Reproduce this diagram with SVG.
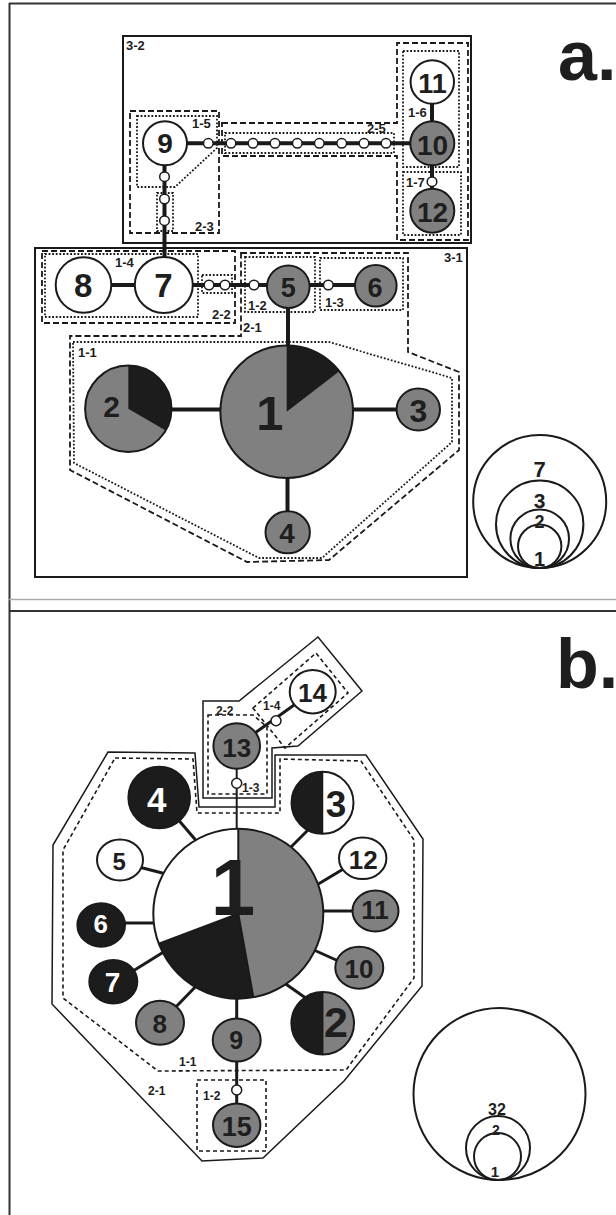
<svg xmlns="http://www.w3.org/2000/svg" width="616" height="1215" viewBox="0 0 616 1215">
<style>
.frame{fill:none;stroke:#333;stroke-width:2}
.fg{fill:none;stroke:#aaa;stroke-width:1.5}
.box{fill:none;stroke:#1a1a1a;stroke-width:2}
.sol{fill:none;stroke:#1a1a1a;stroke-width:1.5}
.dash{fill:none;stroke:#1a1a1a;stroke-width:1.8;stroke-dasharray:6 3}
.dot{fill:none;stroke:#1a1a1a;stroke-width:1.8;stroke-dasharray:1.8 1.8}
.bd{fill:none;stroke:#1a1a1a;stroke-width:1.6;stroke-dasharray:4 3}
.ea{stroke:#1a1a1a;stroke-width:4;fill:none}
.eb{stroke:#1a1a1a;stroke-width:3;fill:none}
.et{stroke:#1a1a1a;stroke-width:2;fill:none}
.n{stroke:#1a1a1a;stroke-width:2}
.w{fill:#fff}
.g{fill:#808080}
.k{fill:#1c1c1c}
.s{fill:#fff;stroke:#1a1a1a;stroke-width:1.5}
.lg{fill:none;stroke:#1a1a1a;stroke-width:2}
text{font-family:"Liberation Sans",Arial,sans-serif;font-weight:bold}
.t{text-anchor:middle;fill:#1e1e1e}
.tw{text-anchor:middle;fill:#fff}
.r{font-size:13px;fill:#1e1e1e}
.rb{font-size:12px;fill:#1e1e1e}
.big{font-size:70px;fill:#1e1e1e}
</style>

<g id="frame">
<line class="frame" x1="9.5" y1="3" x2="9.5" y2="1215"/>
<line class="frame" x1="9" y1="3.5" x2="616" y2="3.5"/>
<line class="fg" x1="9" y1="599.5" x2="616" y2="599.5"/>
<line class="frame" x1="9" y1="611" x2="616" y2="611"/>
<text class="big" x="558" y="80">a.</text>
<text class="big" x="556" y="688">b.</text>
</g>

<g id="regions-a">
<rect class="box" x="123" y="36" width="348" height="207"/>
<rect class="box" x="35" y="248" width="432" height="329"/>
<rect class="dash" x="130" y="111" width="89" height="122"/>
<polygon class="dot" points="137,116 217,116 217,148 175,187 137,187"/>
<rect class="dot" x="157" y="193" width="16" height="38"/>
<polygon class="dash" points="222,123 397,123 397,43 468,43 468,240 397,240 397,156 222,156"/>
<rect class="dot" x="225" y="133" width="169" height="20"/>
<rect class="dot" x="403" y="51" width="56" height="116"/>
<rect class="dot" x="403" y="172" width="58" height="63"/>
<rect class="dash" x="42" y="251" width="193" height="72"/>
<rect class="dot" x="45" y="254" width="153" height="63"/>
<rect class="dot" x="202" y="275" width="30" height="18"/>
<polygon class="dash" points="241,253 408,253 408,352 459,372 459,450 329,560 247,562 70,470 70,336 241,336"/>
<rect class="dot" x="245" y="257" width="70" height="55"/>
<rect class="dot" x="320" y="258" width="83" height="52"/>
<polygon class="dot" points="73,342 329,342 452,378 452,442 322,558 259,558 74,463"/>
<text class="r" x="126" y="50">3-2</text>
<text class="r" x="195" y="231">2-3</text>
<text class="r" x="192" y="128">1-5</text>
<text class="r" x="367" y="133">2-5</text>
<text class="r" x="408" y="117">1-6</text>
<text class="r" x="406" y="187">1-7</text>
<text class="r" x="115" y="267">1-4</text>
<text class="r" x="212" y="319">2-2</text>
<text class="r" x="243" y="332">2-1</text>
<text class="r" x="248" y="310">1-2</text>
<text class="r" x="325" y="307">1-3</text>
<text class="r" x="444" y="262">3-1</text>
<text class="r" x="78" y="357">1-1</text>
</g>

<g id="regions-b">
<polygon class="sol" points="108,752 195,753 199,807 275,807 275,755 366,755 423,839 422,986 344,1081 263,1158 202,1161 52,1004 53,845"/>
<polygon class="bd" points="115,758 193,759 197,813 280,813 280,759 361,761 414,840 414,978 346,1070 158,1071 63,998 63,850"/>
<polygon class="sol" points="203,701 239,701 318,637 362,691 298,746 272,748 272,798 203,798"/>
<polygon class="bd" points="208,715 253,715 267,727 267,794 208,794"/>
<polygon class="bd" points="253,708 316,653 348,693 285,748"/>
<rect class="bd" x="197" y="1080" width="69" height="71"/>
<text class="rb" x="216" y="715">2-2</text>
<text class="rb" x="263" y="710">1-4</text>
<text class="rb" x="242" y="792">1-3</text>
<text class="rb" x="179" y="1066">1-1</text>
<text class="rb" x="148" y="1095">2-1</text>
<text class="rb" x="203" y="1100">1-2</text>
</g>

<g id="connectors">
<line class="ea" x1="165" y1="143.3" x2="432" y2="143.3"/>
<line class="ea" x1="164.5" y1="143" x2="164.5" y2="285"/>
<line class="ea" x1="432" y1="82" x2="432" y2="211"/>
<line class="ea" x1="83" y1="285" x2="376" y2="285"/>
<line class="ea" x1="288" y1="287" x2="288" y2="412"/>
<line class="ea" x1="128" y1="409.5" x2="418" y2="409.5"/>
<line class="ea" x1="287.5" y1="412" x2="287.5" y2="532"/>
<line class="et" x1="236.7" y1="746" x2="236.7" y2="830"/>
<line class="eb" x1="236.7" y1="746" x2="312.7" y2="691.7"/>
<line class="eb" x1="170" y1="810" x2="205" y2="851"/>
<line class="eb" x1="135" y1="866" x2="170" y2="875"/>
<line class="eb" x1="315" y1="823" x2="285" y2="853"/>
<line class="eb" x1="350" y1="865" x2="310" y2="889"/>
<line class="eb" x1="315" y1="911" x2="360" y2="911"/>
<line class="eb" x1="345" y1="964" x2="305" y2="946"/>
<line class="eb" x1="310" y1="1001" x2="280" y2="980"/>
<line class="eb" x1="236.7" y1="990" x2="236.7" y2="1126"/>
<line class="eb" x1="170" y1="1013" x2="202" y2="980"/>
<line class="eb" x1="125" y1="976" x2="170" y2="948"/>
<line class="eb" x1="115" y1="923" x2="160" y2="923"/>
<circle class="s" cx="208.3" cy="143.3" r="4.8"/>
<circle class="s" cx="231" cy="143.3" r="4.8"/>
<circle class="s" cx="253" cy="143.3" r="4.8"/>
<circle class="s" cx="275" cy="143.3" r="4.8"/>
<circle class="s" cx="297.3" cy="143.3" r="4.8"/>
<circle class="s" cx="319.3" cy="143.3" r="4.8"/>
<circle class="s" cx="341.7" cy="143.3" r="4.8"/>
<circle class="s" cx="364" cy="143.3" r="4.8"/>
<circle class="s" cx="386" cy="143.3" r="4.8"/>
<circle class="s" cx="164.5" cy="176.7" r="4.8"/>
<circle class="s" cx="164.5" cy="199" r="4.8"/>
<circle class="s" cx="164.5" cy="220.7" r="4.8"/>
<circle class="s" cx="432" cy="181.7" r="4.8"/>
<circle class="s" cx="209" cy="285" r="4.8"/>
<circle class="s" cx="225" cy="285" r="4.8"/>
<circle class="s" cx="254" cy="285" r="4.8"/>
<circle class="s" cx="328.3" cy="285" r="4.8"/>
<circle class="s" cx="236.7" cy="783.3" r="5"/>
<circle class="s" cx="276" cy="720.7" r="5"/>
<circle class="s" cx="236.7" cy="1090" r="5"/>
</g>

<g id="a-n1">
<circle class="g" cx="286.7" cy="411.7" r="66.3"/>
<path class="k" d="M286.7,411.7 L286.7,345.4 A66.3,66.3 0 0 1 339.3,371.3 Z"/>
<circle class="n" fill="none" cx="286.7" cy="411.7" r="66.3"/>
<text class="t" x="270" y="430" font-size="49">1</text>
</g>
<g id="a-n2">
<circle class="g" cx="128.3" cy="408.8" r="43.2"/>
<path class="k" d="M128.3,408.8 L128.3,365.6 A43.2,43.2 0 0 1 165.7,430.4 Z"/>
<circle class="n" fill="none" cx="128.3" cy="408.8" r="43.2"/>
<text class="t" x="111.7" y="416.7" font-size="30">2</text>
</g>
<g id="a-n3"><ellipse class="n g" cx="418.3" cy="409.5" rx="21.7" ry="21"/><text class="t" x="418.5" y="421.7" font-size="32">3</text></g>
<g id="a-n4"><ellipse class="n g" cx="287.7" cy="532.3" rx="22.2" ry="21"/><text class="t" x="287" y="543.3" font-size="28">4</text></g>
<g id="a-n5"><circle class="n g" cx="288.3" cy="286.7" r="21.3"/><text class="t" x="288.3" y="296.7" font-size="27">5</text></g>
<g id="a-n6"><circle class="n g" cx="375.8" cy="285.8" r="20.8"/><text class="t" x="375" y="296.7" font-size="27">6</text></g>
<g id="a-n7"><ellipse class="n w" cx="163.8" cy="285" rx="29" ry="28"/><text class="t" x="163.5" y="296.7" font-size="33">7</text></g>
<g id="a-n8"><circle class="n w" cx="83.5" cy="285" r="27.8"/><text class="t" x="83.3" y="296.7" font-size="33">8</text></g>
<g id="a-n9"><circle class="n w" cx="165" cy="143.3" r="22"/><text class="t" x="165" y="153.3" font-size="28">9</text></g>
<g id="a-n10"><circle class="n g" cx="432.3" cy="143.3" r="22"/><text class="t" x="432.5" y="155" font-size="28">10</text></g>
<g id="a-n11"><circle class="n w" cx="432.3" cy="82" r="21.7"/><text class="t" x="432.5" y="93" font-size="27">11</text></g>
<g id="a-n12"><circle class="n g" cx="432.3" cy="210.7" r="22"/><text class="t" x="432.5" y="221.7" font-size="28">12</text></g>

<g id="legend-a">
<circle class="lg" cx="539.7" cy="501.5" r="66.5"/>
<circle class="lg" cx="539.7" cy="524.3" r="43.7"/>
<circle class="lg" cx="539.7" cy="538.7" r="29.3"/>
<circle class="lg" cx="539.7" cy="546.3" r="21.7"/>
<text class="t" x="539.5" y="477" font-size="22">7</text>
<text class="t" x="539.5" y="508" font-size="21">3</text>
<text class="t" x="539.5" y="528" font-size="18">2</text>
<text class="t" x="539.5" y="566" font-size="20">1</text>
</g>

<g id="b-n1">
<path class="g" d="M238.3,913.7 L238.3,828.7 A85,85 0 0 1 253.35,997.36 Z"/>
<path class="k" d="M238.3,913.7 L253.35,997.36 A85,85 0 0 1 158.79,943.75 Z"/>
<path class="w" d="M238.3,913.7 L158.79,943.75 A85,85 0 0 1 238.3,828.7 Z"/>
<path d="M238.3,913.7 L238.3,828.7 M238.3,913.7 L253.35,997.36 M238.3,913.7 L158.79,943.75" stroke="#1a1a1a" stroke-width="2" fill="none"/>
<circle class="n" fill="none" cx="238.3" cy="913.7" r="85"/>
<text class="t" x="233" y="915" font-size="80">1</text>
</g>
<g id="b-n2">
<circle class="g" cx="322.7" cy="1023.3" r="31.3"/>
<path class="k" d="M322.7,992 A31.3,31.3 0 0 0 322.7,1054.6 Z"/>
<line x1="322.7" y1="992" x2="322.7" y2="1054.6" stroke="#1a1a1a" stroke-width="1.5"/>
<circle class="n" fill="none" cx="322.7" cy="1023.3" r="31.3"/>
<text class="t" x="336" y="1037" font-size="43">2</text>
</g>
<g id="b-n3">
<circle class="w" cx="322.5" cy="802.8" r="31"/>
<path class="k" d="M322.5,771.8 A31,31 0 0 0 322.5,833.8 Z"/>
<line x1="322.5" y1="771.8" x2="322.5" y2="833.8" stroke="#1a1a1a" stroke-width="1.5"/>
<circle class="n" fill="none" cx="322.5" cy="802.8" r="31"/>
<text class="t" x="336" y="816.7" font-size="37">3</text>
</g>
<g id="b-n4"><circle class="n k" cx="159.2" cy="797.5" r="30.8"/><text class="tw" x="156.7" y="811.7" font-size="35">4</text></g>
<g id="b-n5"><ellipse class="n w" cx="120" cy="860" rx="23" ry="20.5"/><text class="t" x="119.3" y="870" font-size="24">5</text></g>
<g id="b-n6"><ellipse class="n k" cx="101.2" cy="925" rx="23.8" ry="21.7"/><text class="tw" x="100.8" y="933.3" font-size="26">6</text></g>
<g id="b-n7"><ellipse class="n k" cx="113.3" cy="981.7" rx="24" ry="21.7"/><text class="tw" x="112.5" y="991.7" font-size="28">7</text></g>
<g id="b-n8"><ellipse class="n g" cx="160" cy="1022.7" rx="24" ry="22"/><text class="t" x="159.7" y="1033.3" font-size="26">8</text></g>
<g id="b-n9"><ellipse class="n g" cx="236.7" cy="1040" rx="24" ry="21.5"/><text class="t" x="236.3" y="1049" font-size="25">9</text></g>
<g id="b-n10"><ellipse class="n g" cx="359.3" cy="967.7" rx="24" ry="21"/><text class="t" x="359" y="978.3" font-size="26">10</text></g>
<g id="b-n11"><ellipse class="n g" cx="375.5" cy="911" rx="23" ry="20.5"/><text class="t" x="375" y="918.5" font-size="26">11</text></g>
<g id="b-n12"><ellipse class="n w" cx="362.7" cy="858.3" rx="23.7" ry="20.8"/><text class="t" x="363.3" y="869" font-size="26">12</text></g>
<g id="b-n13"><ellipse class="n g" cx="236.7" cy="746" rx="23.3" ry="22.8"/><text class="t" x="236.7" y="756.7" font-size="26">13</text></g>
<g id="b-n14"><ellipse class="n w" cx="312.7" cy="691.7" rx="23" ry="21.7"/><text class="t" x="312.5" y="701.7" font-size="26">14</text></g>
<g id="b-n15"><ellipse class="n g" cx="236.7" cy="1125.2" rx="23.7" ry="21.7"/><text class="t" x="236.7" y="1136" font-size="27">15</text></g>

<g id="legend-b">
<circle class="lg" cx="499.5" cy="1094" r="86"/>
<circle class="lg" cx="498" cy="1148" r="32"/>
<circle class="lg" cx="497.5" cy="1156.5" r="23.5"/>
<text class="t" x="497" y="1115" font-size="16">32</text>
<text class="t" x="496" y="1135" font-size="14">2</text>
<text class="t" x="495" y="1177" font-size="15">1</text>
</g>
</svg>
